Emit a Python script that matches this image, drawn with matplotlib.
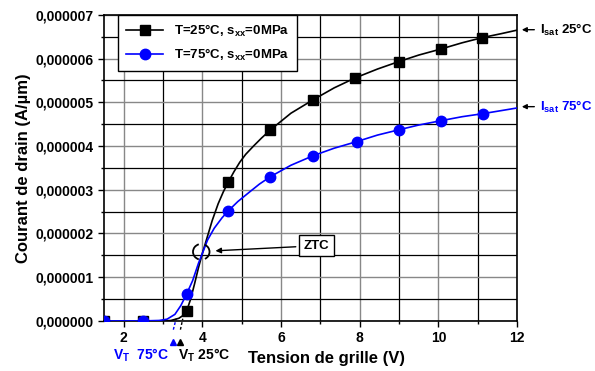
import matplotlib
matplotlib.use("Agg")
from matplotlib import pyplot as plt
from matplotlib.patches import Arc
from matplotlib.ticker import MultipleLocator, FuncFormatter

plt.rcParams['font.family'] = ['Liberation Sans', 'DejaVu Sans']
plt.rcParams['font.weight'] = 'bold'
plt.rcParams['mathtext.fontset'] = 'custom'
plt.rcParams['mathtext.rm'] = 'Liberation Sans'
plt.rcParams['mathtext.bf'] = 'Liberation Sans:bold'

## measured points (current in units of 1e-6 A/um) ##
vg_pts_25 = [1.5, 2.5, 3.6, 4.66, 5.73, 6.82, 7.89, 8.99, 10.07, 11.12]
id_pts_25 = [0.0, 0.0, 0.23, 3.18, 4.37, 5.06, 5.56, 5.93, 6.22, 6.48]
vg_pts_75 = [1.5, 2.5, 3.6, 4.66, 5.73, 6.82, 7.92, 8.99, 10.07, 11.13]
id_pts_75 = [0.0, 0.0, 0.62, 2.52, 3.30, 3.78, 4.10, 4.37, 4.58, 4.74]

## traced smooth curves ##
vg_line_25 = [1.5, 2.5, 3.0, 3.2, 3.4, 3.5, 3.6, 3.7, 3.8, 3.9, 4.0, 4.1, 4.25, 4.4, 4.53, 4.66,
              4.8, 4.95, 5.1, 5.3, 5.5, 5.73, 6.25, 6.82, 7.35, 7.89, 8.45, 8.99, 9.5, 10.07, 10.6,
              11.12, 11.6, 12.0]
id_line_25 = [0.0, 0.0, 0.0, 0.01, 0.06, 0.12, 0.23, 0.5, 0.85, 1.22, 1.55, 1.85, 2.3, 2.68, 2.95, 3.18,
              3.41, 3.63, 3.81, 4.0, 4.18, 4.37, 4.75, 5.06, 5.33, 5.56, 5.76, 5.93, 6.08, 6.22, 6.36,
              6.48, 6.57, 6.65]
vg_line_75 = [1.5, 2.5, 2.9, 3.1, 3.3, 3.45, 3.6, 3.75, 3.9, 4.0, 4.13, 4.3, 4.5, 4.66,
              4.9, 5.2, 5.45, 5.73, 6.25, 6.82, 7.35, 7.92, 8.45, 8.99, 9.5, 10.07, 10.6,
              11.13, 11.6, 12.0]
id_line_75 = [0.0, 0.0, 0.01, 0.04, 0.15, 0.35, 0.62, 0.92, 1.32, 1.55, 1.85, 2.12, 2.36, 2.52,
              2.73, 2.95, 3.13, 3.30, 3.56, 3.78, 3.95, 4.10, 4.25, 4.37, 4.48, 4.58, 4.67,
              4.74, 4.81, 4.87]

vt_25 = 3.44
vt_75 = 3.26
ztc = (3.97, 1.58)

fig = plt.figure(figsize=(5.95, 3.71), dpi=100)
ax = fig.add_axes([0.175, 0.135, 0.694, 0.825])

ax.plot(vg_line_25, id_line_25, color='black', lw=1.2, zorder=3)
ax.plot(vg_pts_25, id_pts_25, 's', color='black', ms=6.5, zorder=4)
ax.plot(vg_line_75, id_line_75, color='blue', lw=1.2, zorder=3)
ax.plot(vg_pts_75, id_pts_75, 'o', color='blue', ms=7.5, zorder=5)

# legend handles
ax.plot([], [], '-s', color='black', ms=6.5, lw=1.2, label='T=25°C, s$_{\\rm xx}$=0MPa')
ax.plot([], [], '-o', color='blue', ms=7.5, lw=1.2, label='T=75°C, s$_{\\rm xx}$=0MPa')

ax.set_xlim(1.5, 12)
ax.set_ylim(0, 7)
ax.xaxis.set_major_locator(MultipleLocator(2))
ax.xaxis.set_minor_locator(MultipleLocator(1))
ax.yaxis.set_major_locator(MultipleLocator(1))
ax.yaxis.set_minor_locator(MultipleLocator(0.5))
ax.yaxis.set_major_formatter(FuncFormatter(lambda v, p: f"{v * 1e-6:.6f}".replace('.', ',')))
ax.grid(which='major', color='#888888', lw=1.0)
ax.grid(which='minor', color='black', lw=0.9)
ax.set_axisbelow(True)
ax.tick_params(which='major', direction='out', length=4, width=1, labelsize=10)
ax.tick_params(which='minor', direction='out', length=2.5, width=1)
for s in ax.spines.values():
    s.set_linewidth(1.2)

ax.set_ylabel('Courant de drain (A/µm)', fontsize=12, fontweight='bold', labelpad=3)
ax.text(7.15, -0.85, 'Tension de grille (V)', fontsize=12, fontweight='bold', ha='center', va='center')

leg = ax.legend(loc='upper left', bbox_to_anchor=(0.034, 1.0), borderaxespad=0,
                fancybox=False, edgecolor='black', framealpha=1, fontsize=9.5,
                handlelength=2.8, borderpad=0.6, labelspacing=0.6)
leg.get_frame().set_linewidth(1.0)

## ZTC annotation ##
ax.add_patch(Arc(ztc, 0.42, 0.36, theta1=110, theta2=250, color='black', lw=1.3, zorder=6))
ax.add_patch(Arc(ztc, 0.42, 0.36, theta1=-60, theta2=60, color='black', lw=1.3, zorder=6))
ax.annotate('ZTC', xy=(4.26, 1.6), xytext=(6.9, 1.72), fontsize=9.5, fontweight='bold',
            ha='center', va='center',
            bbox=dict(boxstyle='square,pad=0.35', fc='white', ec='black', lw=1),
            arrowprops=dict(arrowstyle='-|>', color='black', lw=1, mutation_scale=8))

## I_sat labels ##
ax.annotate('I$_{\\rm sat}$ 25°C', xy=(12.05, 6.66), xytext=(12.58, 6.66), fontsize=9.5,
            fontweight='bold', va='center', annotation_clip=False,
            arrowprops=dict(arrowstyle='-|>', color='black', lw=1, mutation_scale=7))
ax.annotate('I$_{\\rm sat}$ 75°C', xy=(12.05, 4.90), xytext=(12.58, 4.90), fontsize=9.5,
            fontweight='bold', va='center', color='blue', annotation_clip=False,
            arrowprops=dict(arrowstyle='-|>', color='black', lw=1, mutation_scale=7))

## threshold voltage markers ##
ax.plot([vt_25, vt_25 + 0.06], [-0.2, 0.05], '--', color='black', lw=1, clip_on=False, dashes=(2, 1.5))
ax.plot([vt_75, vt_75 + 0.07], [-0.2, 0.05], '--', color='blue', lw=1, clip_on=False, dashes=(2, 1.5))
ax.plot([vt_25], [-0.48], '^', color='black', ms=4, clip_on=False)
ax.plot([vt_75], [-0.48], '^', color='blue', ms=4, clip_on=False)
ax.text(vt_75 - 0.1, -0.78, 'V$_{\\rm T}$  75°C', color='blue', fontsize=10, fontweight='bold',
        ha='right', va='center')
ax.text(vt_25 - 0.05, -0.78, 'V$_{\\rm T}$ 25°C', color='black', fontsize=10, fontweight='bold',
        ha='left', va='center')

plt.savefig('out.png', dpi=100)
